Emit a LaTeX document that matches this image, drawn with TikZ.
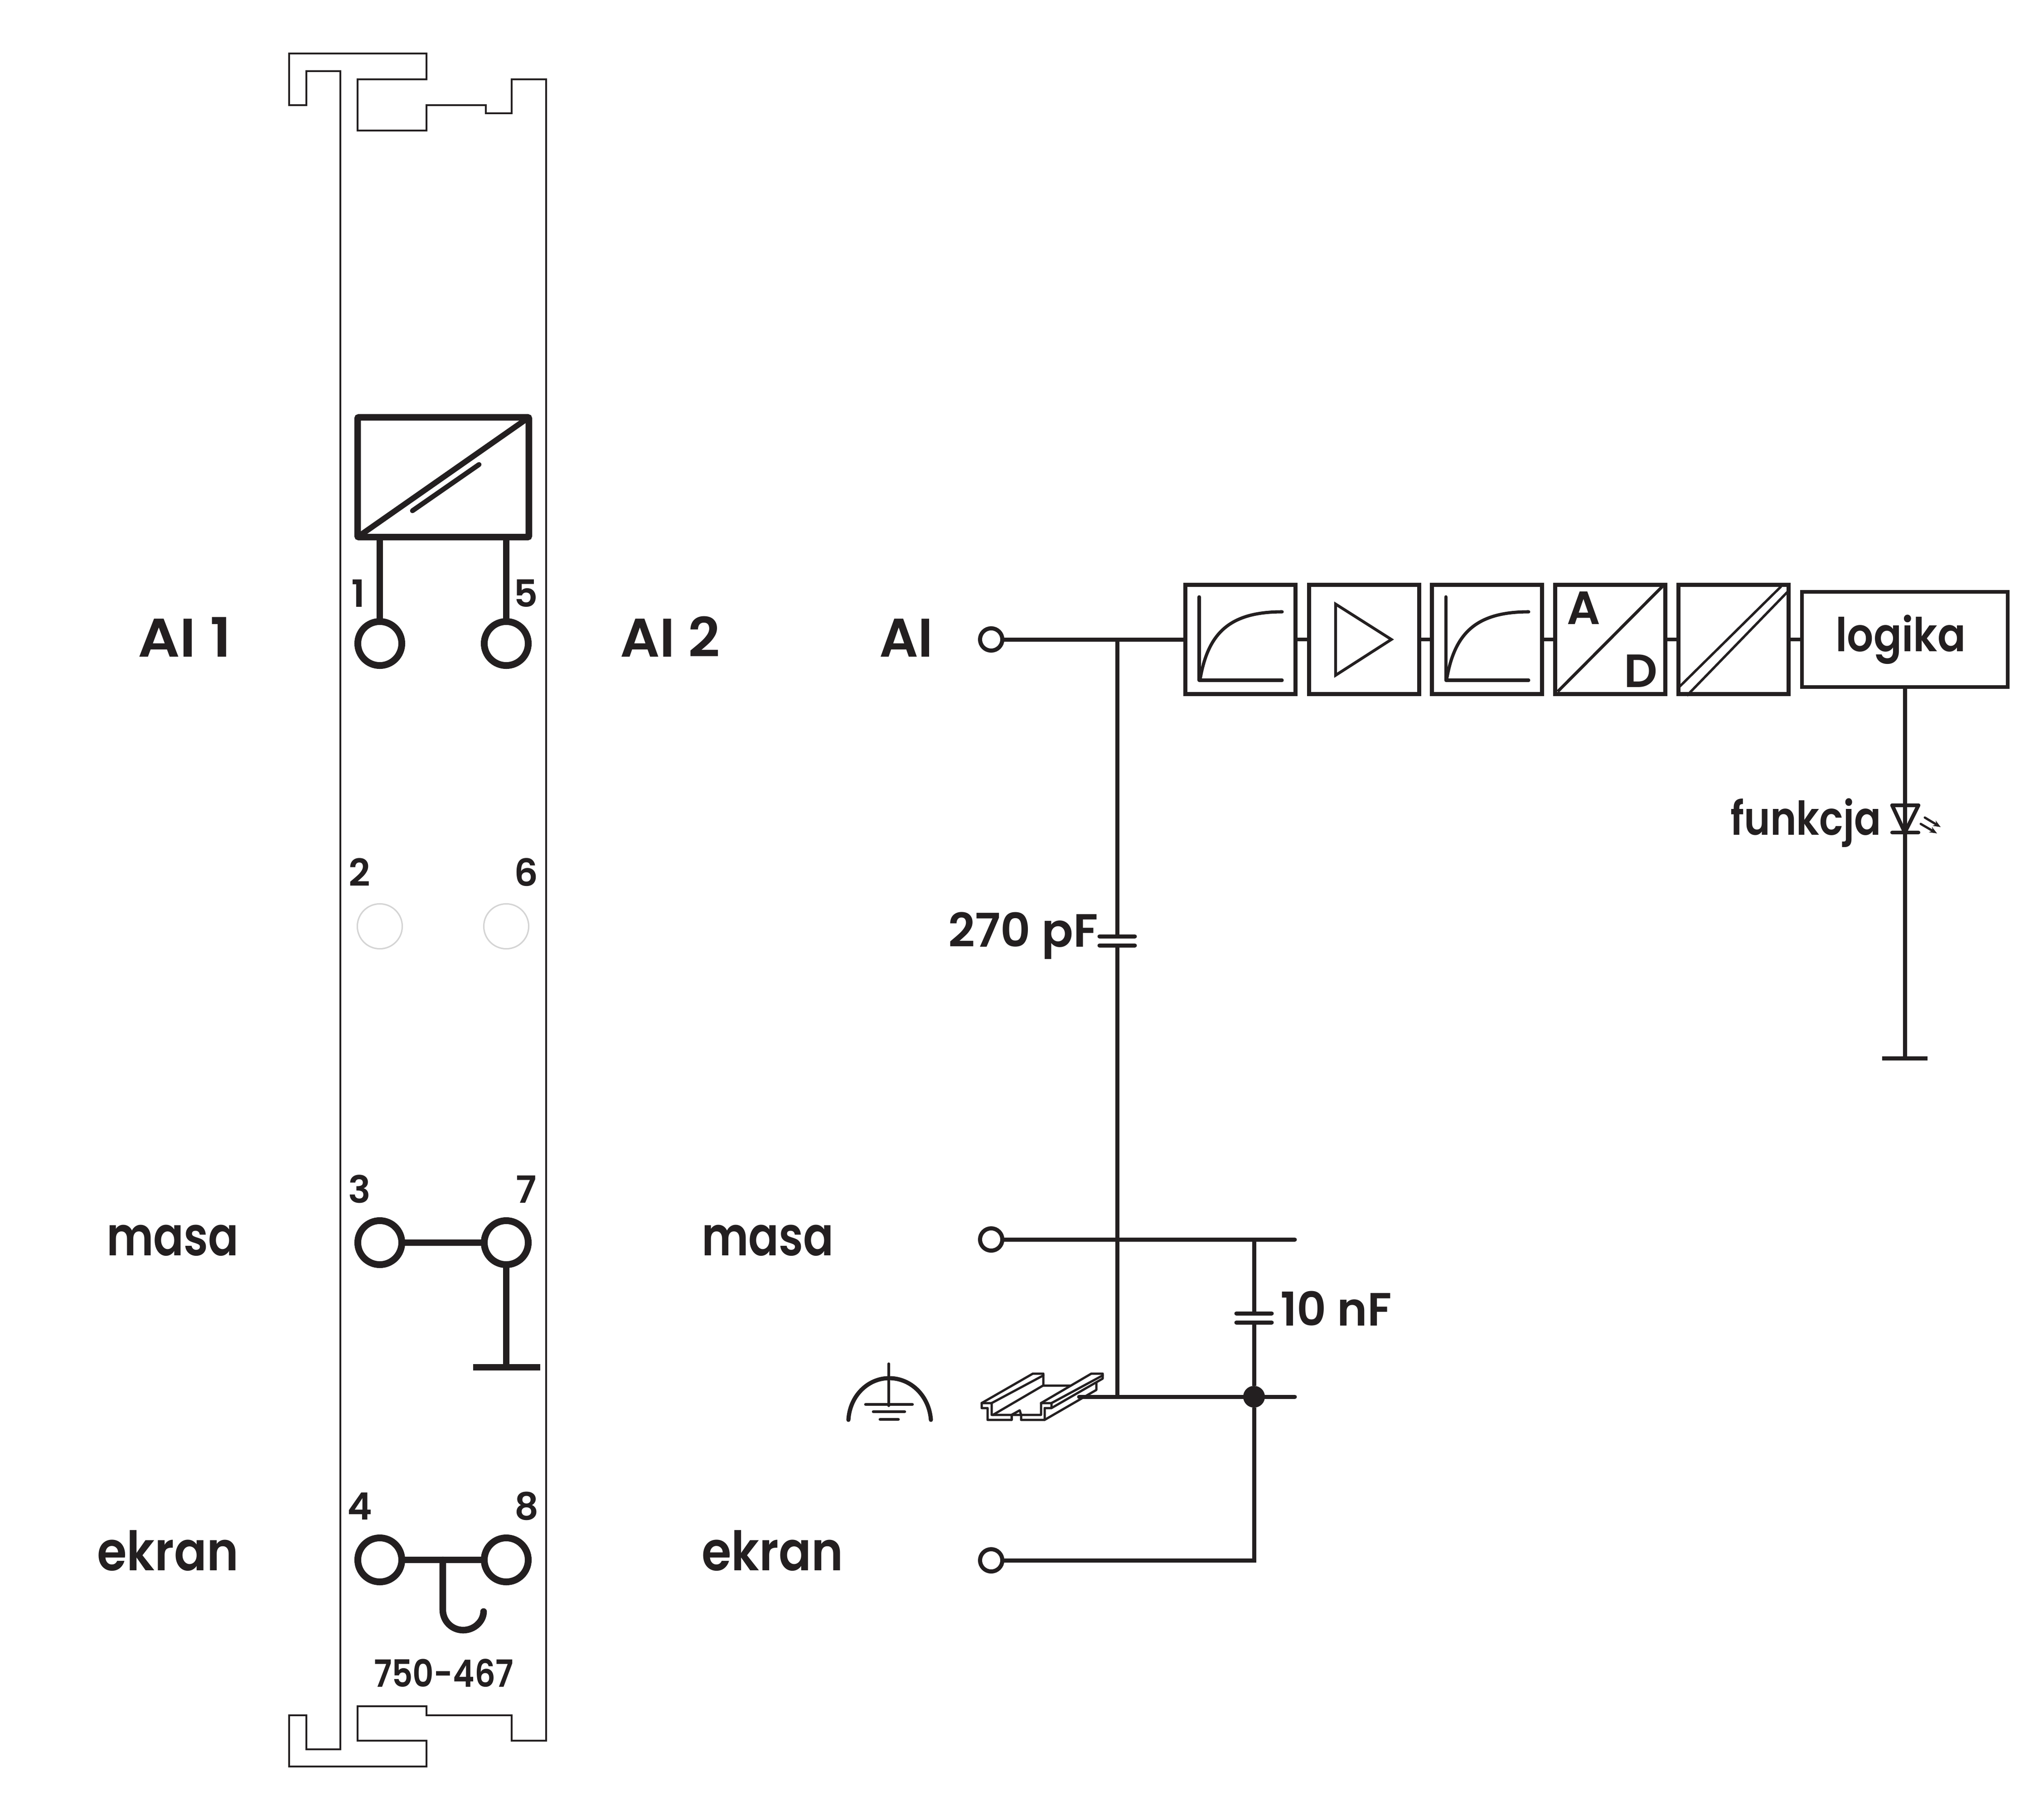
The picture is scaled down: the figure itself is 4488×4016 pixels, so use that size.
\documentclass[tikz,border=0pt]{standalone}
\usepackage{fontspec}
\usepackage{graphicx}
\usetikzlibrary{arrows.meta}
\newfontfamily\labfont{Poppins SemiBold}
\definecolor{ink}{HTML}{231F20}
\definecolor{pale}{HTML}{D4D4D4}
\newcommand{\fbigl}{\labfont\fontsize{28.8}{30}\selectfont}
\newcommand{\fmidl}{\labfont\fontsize{24.7}{26}\selectfont}
\newcommand{\fdigl}{\labfont\fontsize{19.9}{21}\selectfont}
\newcommand{\sqz}[2]{\scalebox{#1}[1]{#2}}
\tikzset{
  x=0.24pt,y=-0.24pt,
  every node/.style={inner sep=0pt,outer sep=0pt,text=ink},
  lnA/.style={draw=ink,line width=0.9pt,line join=miter},
  lnB/.style={draw=ink,line width=2.16pt,line cap=round,line join=round},
  lnC/.style={draw=ink,line width=3.5pt,line cap=round,line join=round},
  lnD/.style={draw=ink,line width=1.2pt,line join=round,line cap=round},
  term/.style={circle,draw=ink,line width=3.6pt,minimum size=23.3pt},
  ghost/.style={circle,draw=pale,line width=0.75pt,minimum size=23.8pt},
  wterm/.style={circle,draw=ink,line width=2.16pt,minimum size=11.8pt},
  blk/.style={rectangle,draw=ink,line width=2pt,minimum width=58.3pt,minimum height=57.8pt},
  dot/.style={circle,fill=ink,minimum size=11.5pt},
  bigt/.style={font=\fbigl,anchor=base west},
  midt/.style={font=\fmidl,anchor=base west},
  digt/.style={font=\fdigl,anchor=base},
}
\begin{document}
\begin{tikzpicture}
\useasboundingbox[fill=white] (0,0) rectangle (4488,4016);
% rail outline
\draw[lnA] (751,3000) -- (751,157) -- (676,157) -- (676,232) -- (638,232) -- (638,118) -- (941,118) -- (941,175) -- (789,175) -- (789,288) -- (941,288) -- (941,232) -- (1072,232) -- (1072,250) -- (1129,250) -- (1129,175) -- (1205,175) -- (1205,3000);
\draw[lnA] (751,3000) -- (751,3860) -- (676,3860) -- (676,3785) -- (638,3785) -- (638,3898) -- (941,3898) -- (941,3841) -- (789,3841) -- (789,3765) -- (941,3765) -- (941,3785) -- (1129,3785) -- (1129,3841) -- (1205,3841) -- (1205,3000);
% module converter
\node[rectangle,draw=ink,line width=3.5pt,rounded corners=0.7pt,minimum width=90.7pt,minimum height=63.4pt] (conv) at (978,1053) {};
\draw[ink,line width=3pt] (conv.south west) -- (conv.north east);
\draw[ink,line width=2.6pt,line cap=round] (910,1127) -- (1057,1025);
% terminals
\node[term] (t1) at (838,1420) {};
\node[term] (t5) at (1117,1420) {};
\node[ghost] (t2) at (838,2044) {};
\node[ghost] (t6) at (1117,2044) {};
\node[term] (t3) at (838,2742) {};
\node[term] (t7) at (1117,2742) {};
\node[term] (t4) at (838,3442) {};
\node[term] (t8) at (1117,3442) {};
\draw[lnC,line cap=butt] (t1.north) -- (t1 |- conv.south);
\draw[lnC,line cap=butt] (t5.north) -- (t5 |- conv.south);
\draw[lnC,line cap=butt] (t3.east) -- (t7.west);
\coordinate (gnd7) at (1117,3017);
\draw[lnC,line cap=butt] (t7.south) -- (gnd7);
\draw[lnC,line cap=butt] (1044,3017) -- (1192,3017);
\draw[lnC,line cap=butt] (t4.east) -- (t8.west);
\draw[lnC,line join=round] (977,3442) -- (977,3552) .. controls (977,3577) and (997,3597) .. (1022,3597) .. controls (1047,3597) and (1067,3577) .. (1067,3556);
% digits
\node[digt] (d1) at (790,1339) {1};
\node[digt] (d5) at (1160,1339) {5};
\node[digt] (d2) at (793,1955) {2};
\node[digt] (d6) at (1161,1955) {6};
\node[digt] (d3) at (793,2654) {3};
\node[digt] (d7) at (1161,2654) {7};
\node[digt] (d4) at (794,3353) {4};
\node[digt] (d8) at (1162,3353) {8};
\node[digt] (code) at (979,3722) {\sqz{0.87}{750-467}};
% labels
\node[bigt] (lAIa) at (304,1449) {\sqz{1.08}{AI 1}};
\node[bigt] (lAIb) at (1368,1449) {\sqz{1.02}{AI 2}};
\node[bigt] (lAI) at (1940,1449) {AI};
\node[midt,font=\fbigl,anchor=base east] (lma) at (527,2770) {\sqz{0.825}{masa}};
\node[midt,font=\fbigl] (lmb) at (1548,2770) {\sqz{0.825}{masa}};
\node[midt,font=\fbigl,anchor=base east] (lea) at (527,3465) {\sqz{0.885}{ekran}};
\node[midt,font=\fbigl] (leb) at (1548,3465) {\sqz{0.885}{ekran}};
% signal chain
\node[blk] (b1) at (2737,1411) {};
\node[blk] (b2) at (3010,1411) {};
\node[blk] (b3) at (3281,1411) {};
\node[blk] (b4) at (3553,1411) {};
\node[blk] (b5) at (3825,1411) {};
\node[blk,minimum width=109pt,minimum height=50.4pt] (logic) at (4203,1411) {};
\node[midt,anchor=base] at (4194,1437) {\sqz{0.89}{logika}};
\node[wterm] (tAI) at (2187,1411) {};
\node[wterm] (tM) at (2187,2735) {};
\node[wterm] (tE) at (2187,3443) {};
\draw[lnB,line cap=butt] (tAI.east) -- (b1.west);
\draw[ink,line width=1.75pt] (b1.east) -- (b2.west) (b2.east) -- (b3.west) (b3.east) -- (b4.west) (b4.east) -- (b5.west) (b5.east) -- (logic.west);
% filter curves
\draw[lnD,line width=1.7pt] (2646,1317) -- (2646,1501) -- (2829,1501);
\draw[lnD,line width=1.7pt] (2648,1499) .. controls (2665,1400) and (2710,1350) .. (2829,1350);
\draw[lnD,line width=1.7pt] (3190,1317) -- (3190,1501) -- (3373,1501);
\draw[lnD,line width=1.7pt] (3192,1499) .. controls (3209,1400) and (3254,1350) .. (3373,1350);
\draw[lnD,line width=1.5pt,line join=miter] (2947,1333) -- (2947,1490) -- (3070,1411) -- cycle;
% AD
\draw[ink,line width=1.6pt] (3437,1526) -- (3668,1294);
\node[midt] (lA) at (3457,1377) {A};
\node[midt,anchor=base] (lD) at (3620,1516) {D};
\draw[ink,line width=1.3pt] (3705,1516) -- (3930,1294);
\draw[ink,line width=1.3pt] (3722,1535) -- (3948,1302);
% LED line
\coordinate (ledT) at (4203,1777);
\coordinate (ledB) at (4203,1837);
\coordinate (gnd) at (4203,2335);
\draw[lnB,line cap=butt] (logic.south -| gnd) -- (gnd);
\draw[lnB,line cap=butt] (4153,2335) -- (4253,2335);
\draw[lnB,line width=2pt,line join=round] (4175,1777) -- (4233,1777) -- (ledB) -- cycle;
\draw[lnB,line width=2pt] (4175,1837) -- (4233,1837);
\draw[ink,line width=1.2pt,line cap=round,-{Stealth[length=4pt,width=3.2pt]}] (4247,1804) -- (4282,1825);
\draw[ink,line width=1.2pt,line cap=round,-{Stealth[length=4pt,width=3.2pt]}] (4238,1818) -- (4274,1839);
\node[midt] (lfun) at (3818,1842) {\sqz{0.85}{funkcja}};
% capacitors and common wires
\coordinate (j1) at (2465,1411);
\coordinate (c1a) at (2465,2066);
\coordinate (c1b) at (2465,2086);
\coordinate (j2) at (2465,3082);
\coordinate (mEnd) at (2857,2735);
\coordinate (gEnd) at (2857,3082);
\coordinate (gStart) at (2381,3082);
\coordinate (j3) at (2767,2735);
\coordinate (c2a) at (2767,2898);
\coordinate (c2b) at (2767,2918);
\coordinate (j5) at (2767,3443);
\node[dot] (j4) at (2767,3082) {};
\draw[lnB,line cap=butt] (j1) -- (c1a) (c1b) -- (j2);
\draw[lnB] (2426,2066) -- (2504,2066) (2426,2086) -- (2504,2086);
\draw[lnB,line cap=round] (tM.east) -- (mEnd);
\draw[lnB] (gStart) -- (gEnd);
\draw[lnB,line cap=butt] (j3) -- (c2a) (c2b) -- (j4);
\draw[lnB] (2728,2898) -- (2806,2898) (2728,2918) -- (2806,2918);
\draw[lnB,line join=miter,line cap=butt] (j4) -- (j5) -- (tE.east);
\node[midt] (l270) at (2092,2089) {\sqz{1.0}{270 pF}};
\node[midt] (l10) at (2825,2925) {\sqz{0.98}{10 nF}};
% ground symbol
\draw[lnD,line width=1.3pt] (1961,3009) -- (1961,3102);
\draw[lnD,line width=2.2pt] (1872,3133) .. controls (1875,3080) and (1915,3041) .. (1962,3041) .. controls (2010,3041) and (2050,3080) .. (2054,3133);
\draw[lnD,line width=1.6pt] (1910,3099) -- (2013,3099) (1927,3115) -- (1996,3115) (1942,3132) -- (1982,3132);
% DIN rail
\draw[lnD] (2166,3096) -- (2166,3107) -- (2179,3107) -- (2179,3133) -- (2232,3133) -- (2232,3122) -- (2250,3112) -- (2253,3122) -- (2253,3133) -- (2305,3133) -- (2305,3107) -- (2320,3107) -- (2320,3096) -- (2297,3096) -- (2297,3122) -- (2188,3122) -- (2188,3096) -- cycle;
\draw[lnD] (2166,3096) -- (2279,3031) -- (2302,3031) -- (2302,3057) -- (2191,3122);
\draw[lnD] (2188,3096) -- (2302,3035);
\draw[lnD] (2302,3057) -- (2363,3057);
\draw[lnD] (2297,3096) -- (2408,3031) -- (2433,3031) -- (2433,3042) -- (2320,3107);
\draw[lnD] (2320,3096) -- (2433,3035);
\draw[lnD] (2419,3050) -- (2419,3067) -- (2305,3133);
\draw[lnD] (2232,3122) -- (2232,3133);
\end{tikzpicture}
\end{document}
